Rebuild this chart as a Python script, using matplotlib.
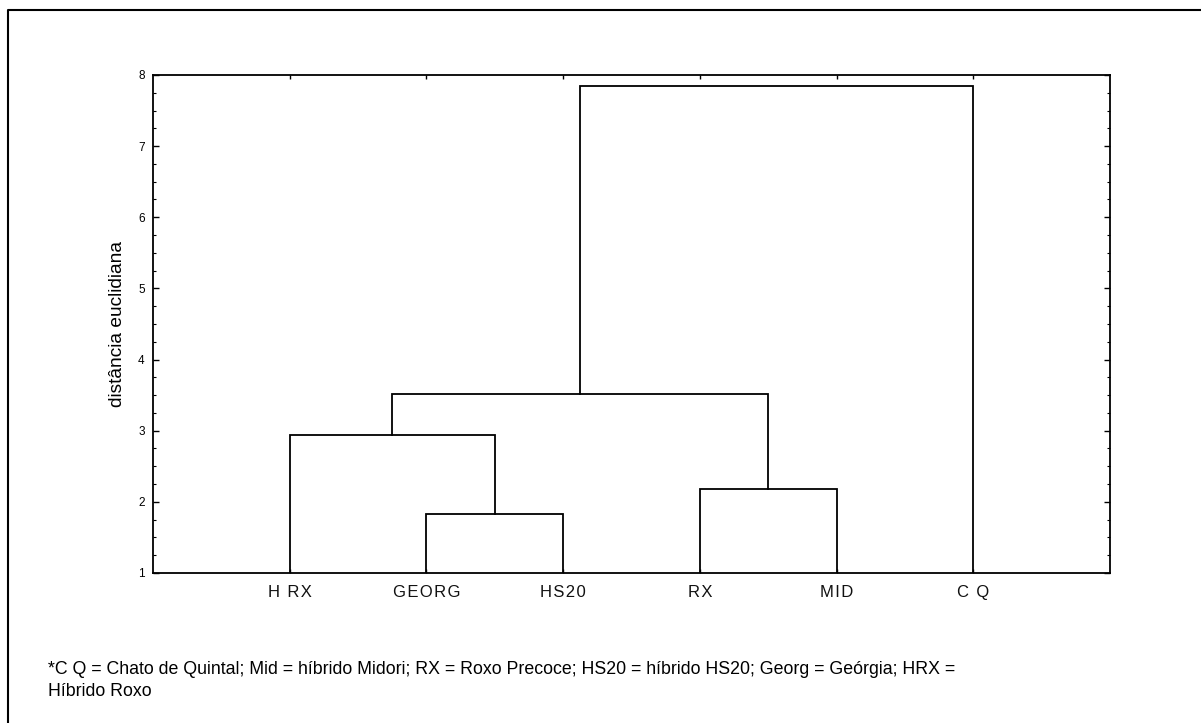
import matplotlib
matplotlib.use("Agg")
import matplotlib.pyplot as plt
from matplotlib.lines import Line2D
from matplotlib.ticker import MultipleLocator
from matplotlib import font_manager

# ---- data ----
leaves = ["H RX", "GEORG", "HS20", "RX", "MID", "C Q"]
leaf_ids = ["HRX", "GEORG", "HS20", "RX", "MID", "CQ"]
# merges: (left member, right member, height); members are leaf ids or cluster index ("c0", ...)
merge_left = ["GEORG", "RX", "HRX", "c2", "c3"]
merge_right = ["HS20", "MID", "c0", "c1", "CQ"]
merge_height = [1.83, 2.18, 2.94, 3.52, 7.84]
ytick_vals = [1, 2, 3, 4, 5, 6, 7, 8]
ylabel = "distância euclidiana"
footnote_lines = ["*C Q = Chato de Quintal; Mid = híbrido Midori; RX = Roxo Precoce; HS20 = híbrido HS20; Georg = Geórgia; HRX =",
                  "Híbrido Roxo"]

names = {f.name for f in font_manager.fontManager.ttflist}
base = "Liberation Sans" if "Liberation Sans" in names else "DejaVu Sans"
plt.rcParams["font.family"] = [base, "DejaVu Sans"]

fig = plt.figure(figsize=(12.01, 7.23), dpi=100)
ax = fig.add_axes([0.1274, 0.2075, 0.7968, 0.6888])

pos = {lid: i + 1 for i, lid in enumerate(leaf_ids)}
hgt = {lid: 1.0 for lid in leaf_ids}
lw = 1.3
for k, (a, b, h) in enumerate(zip(merge_left, merge_right, merge_height)):
    xa, xb = pos[a], pos[b]
    ha, hb = hgt[a], hgt[b]
    ax.plot([xa, xa, xb, xb], [ha, h, h, hb], color="black", lw=lw, solid_joinstyle="miter")
    cid = "c%d" % k
    pos[cid] = (xa + xb) / 2.0
    hgt[cid] = h

def tracked(s):
    return "\u200a".join(list(s))

ax.set_xlim(0, len(leaves) + 1)
ax.set_ylim(1, 8)
ax.set_xticks(range(1, len(leaves) + 1))
ax.set_xticklabels([tracked(s) for s in leaves], fontsize=12, color="#111111")
ax.set_yticks(ytick_vals)
ax.set_yticklabels([str(v) for v in ytick_vals], fontsize=8.5)
ax.yaxis.set_minor_locator(MultipleLocator(0.25))
ax.tick_params(axis="both", which="both", direction="in", top=True, right=True)
ax.tick_params(axis="y", which="major", length=4, width=1, pad=6)
ax.tick_params(axis="y", which="minor", length=2, width=0.8)
ax.tick_params(axis="x", which="major", length=3, width=1, pad=9)
for s in ax.spines.values():
    s.set_linewidth(1.3)
ax.set_ylabel(ylabel, fontsize=13.8, labelpad=9)

fs_note = 12.8
fig.text(48 / 1201, 1 - 670 / 723, footnote_lines[0], fontsize=fs_note, va="center", ha="left")
fig.text(48 / 1201, 1 - 692 / 723, footnote_lines[1], fontsize=fs_note, va="center", ha="left")

# outer frame (top and left visible)
fig.add_artist(Line2D([8 / 1201, 8 / 1201, 1.0], [0.0, 1 - 10 / 723, 1 - 10 / 723],
                      transform=fig.transFigure, color="black", lw=1.5))

fig.savefig("out.png", dpi=100)
